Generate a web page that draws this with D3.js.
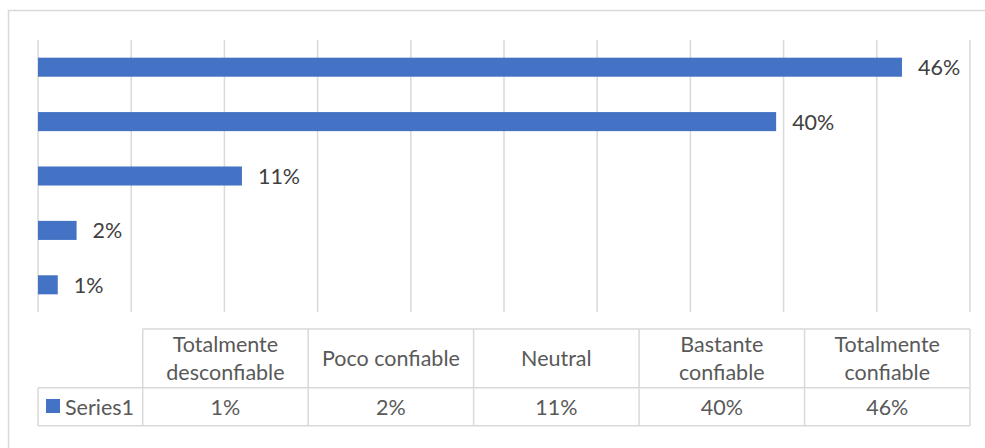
<!DOCTYPE html>
<html>
<head>
<meta charset="utf-8">
<script src="https://cdn.jsdelivr.net/npm/d3@7"></script>
<style>
  html, body { margin: 0; padding: 0; background: #fff; }
  svg { display: block; }
  text { font-family: Lato, "Open Sans", sans-serif; }
</style>
</head>
<body>
<svg id="chart" width="985" height="448"></svg>
<script>
// ---- data ----
const categories = ["Totalmente desconfiable", "Poco confiable", "Neutral", "Bastante confiable", "Totalmente confiable"];
const categoryLines = [["Totalmente", "desconfiable"], ["Poco confiable"], ["Neutral"], ["Bastante", "confiable"], ["Totalmente", "confiable"]];
const values = [0.0106, 0.0207, 0.1094, 0.396, 0.4635];
const seriesName = "Series1";
const gridTicks = [0, 0.05, 0.1, 0.15, 0.2, 0.25, 0.3, 0.35, 0.4, 0.45, 0.5];

const data = categories.map((c, i) => ({ cat: c, lines: categoryLines[i], value: values[i] }));

const svg = d3.select("#chart");
const barColor = "#4472C4";
const gridColor = "#d9d9d9";
const textColor = "#404040";
const tableTextColor = "#595959";
const fmt = d3.format(".0%");
const fontSize = 21.5;

// outer chart border
svg.append("rect")
  .attr("x", 8.5).attr("y", 10.5)
  .attr("width", 1000).attr("height", 1000)
  .attr("fill", "none").attr("stroke", gridColor).attr("stroke-width", 1.5);

// scales
const x = d3.scaleLinear().domain([0, 0.5]).range([38, 970]);
const y = d3.scaleBand()
  .domain(categories.slice().reverse())
  .range([40, 312])
  .paddingInner(0.65)
  .paddingOuter(0.325);

// gridlines
svg.append("g").selectAll("line").data(gridTicks).join("line")
  .attr("x1", d => x(d)).attr("x2", d => x(d))
  .attr("y1", 40).attr("y2", 312)
  .attr("stroke", gridColor).attr("stroke-width", 1.5);

// bars
svg.append("g").selectAll("rect").data(data).join("rect")
  .attr("x", x(0))
  .attr("y", d => y(d.cat))
  .attr("width", d => x(d.value) - x(0))
  .attr("height", y.bandwidth())
  .attr("fill", barColor);

// data labels
svg.append("g").selectAll("text").data(data).join("text")
  .attr("x", d => x(d.value) + 16)
  .attr("y", d => y(d.cat) + y.bandwidth() / 2)
  .attr("dominant-baseline", "central")
  .attr("font-size", fontSize)
  .attr("fill", textColor)
  .text(d => fmt(d.value));

// ---- data table ----
const tTop = 329, tMid = 387.7, tBot = 425.7, tLeft = 38;
const col = d3.scaleBand().domain(categories).range([142.7, 970]);
const tbl = svg.append("g").attr("stroke", gridColor).attr("stroke-width", 1.5).attr("fill", "none");

// horizontal lines
tbl.append("line").attr("x1", col.range()[0]).attr("x2", 970).attr("y1", tTop).attr("y2", tTop);
tbl.append("line").attr("x1", tLeft).attr("x2", 970).attr("y1", tMid).attr("y2", tMid);
tbl.append("line").attr("x1", tLeft).attr("x2", 970).attr("y1", tBot).attr("y2", tBot);
// vertical lines
tbl.append("line").attr("x1", tLeft).attr("x2", tLeft).attr("y1", tMid).attr("y2", tBot);
const colEdges = categories.map(c => col(c)).concat([970]);
tbl.selectAll("line.v").data(colEdges).join("line")
  .attr("class", "v")
  .attr("x1", d => d).attr("x2", d => d)
  .attr("y1", tTop).attr("y2", tBot);

// header texts
const headG = svg.append("g");
data.forEach(d => {
  const cx = col(d.cat) + col.bandwidth() / 2;
  const lh = 28;
  const mid = (tTop + tMid) / 2;
  const n = d.lines.length;
  d.lines.forEach((ln, i) => {
    headG.append("text")
      .attr("x", cx)
      .attr("y", mid + (i - (n - 1) / 2) * lh)
      .attr("text-anchor", "middle")
      .attr("dominant-baseline", "central")
      .attr("font-size", fontSize)
      .attr("fill", tableTextColor)
      .text(ln);
  });
});

// value row
const rowMid = (tMid + tBot) / 2;
svg.append("g").selectAll("text").data(data).join("text")
  .attr("x", d => col(d.cat) + col.bandwidth() / 2)
  .attr("y", rowMid)
  .attr("text-anchor", "middle")
  .attr("dominant-baseline", "central")
  .attr("font-size", fontSize)
  .attr("fill", tableTextColor)
  .text(d => fmt(d.value));

// legend key in table
svg.append("rect").attr("x", 46).attr("y", 399).attr("width", 14).attr("height", 14).attr("fill", barColor);
svg.append("text")
  .attr("x", 65)
  .attr("y", rowMid)
  .attr("dominant-baseline", "central")
  .attr("font-size", fontSize)
  .attr("fill", tableTextColor)
  .text(seriesName);
</script>
</body>
</html>
